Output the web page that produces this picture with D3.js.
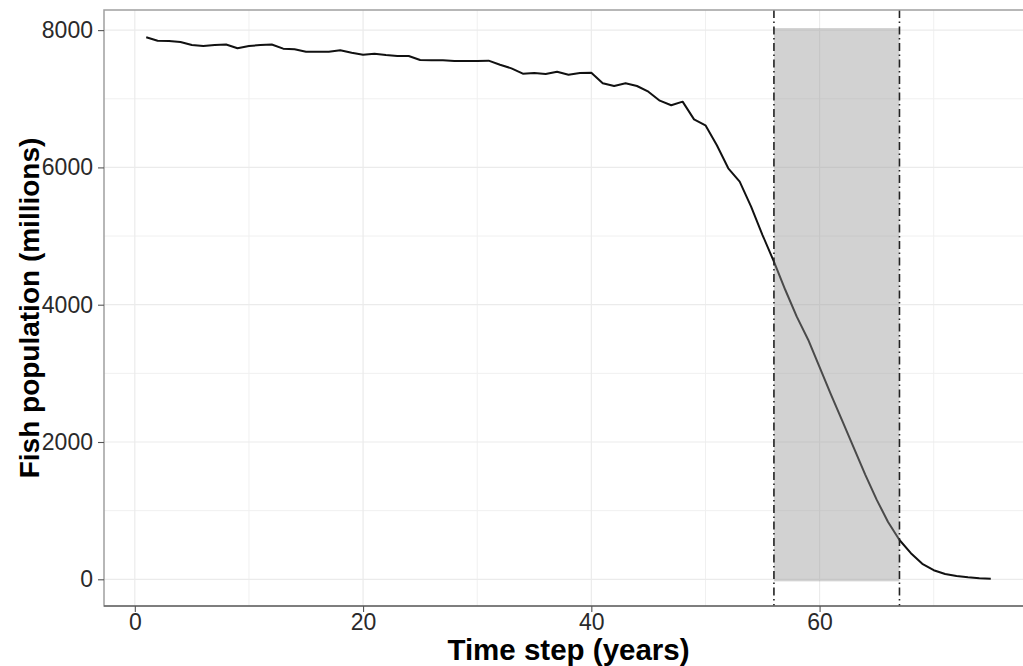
<!DOCTYPE html>
<html>
<head>
<meta charset="utf-8">
<script src="https://cdn.jsdelivr.net/npm/d3@7"></script>
<style>
  html, body { margin: 0; padding: 0; background: #fff; }
  svg { display: block; font-family: "Liberation Sans", Arial, sans-serif; }
</style>
</head>
<body>
<svg id="chart" width="1023" height="666"></svg>
<script>
// ---- data ----
const years = [1,2,3,4,5,6,7,8,9,10,11,12,13,14,15,16,17,18,19,20,21,22,23,24,25,
  26,27,28,29,30,31,32,33,34,35,36,37,38,39,40,41,42,43,44,45,46,47,48,49,50,
  51,52,53,54,55,56,57,58,59,60,61,62,63,64,65,66,67,68,69,70,71,72,73,74,75];
const population = [7895,7846,7841,7827,7783,7768,7783,7790,7735,7768,7783,7790,7730,7720,7686,
  7686,7686,7706,7671,7642,7657,7637,7623,7623,7565,7560,7560,7550,7550,7550,
  7555,7496,7443,7365,7375,7360,7394,7350,7375,7380,7225,7186,7225,7186,7103,
  6972,6905,6958,6700,6613,6322,5987,5792,5428,5015,4627,4214,3826,3490,3090,
  2690,2305,1915,1525,1160,835,572,380,225,132,77,48,29,15,9];
const windowStart = 56;
const windowEnd = 67;
const windowLow = -30;
const windowHigh = 8030;
const xTicks = [0, 20, 40, 60];
const xMinorTicks = [10, 30, 50, 70];
const yTicks = [0, 2000, 4000, 6000, 8000];
const yMinorTicks = [1000, 3000, 5000, 7000];
const xTitle = "Time step (years)";
const yTitle = "Fish population (millions)";

// ---- layout ----
const svg = d3.select("#chart");
const pL = 104, pR = 1033, pT = 10, pB = 606;
const x = d3.scaleLinear().domain([-2.7, 78.7]).range([pL, pR]);
const y = d3.scaleLinear().domain([-389, 8293]).range([pB, pT]);

svg.append("defs").append("clipPath").attr("id", "panel")
  .append("rect").attr("x", pL).attr("y", pT)
  .attr("width", pR - pL).attr("height", pB - pT);

const panel = svg.append("g").attr("clip-path", "url(#panel)");

// grid
panel.selectAll("line.vminor").data(xMinorTicks).join("line")
  .attr("x1", d => x(d)).attr("x2", d => x(d)).attr("y1", pT).attr("y2", pB)
  .attr("stroke", "#f0f0f0").attr("stroke-width", 1);
panel.selectAll("line.hminor").data(yMinorTicks).join("line")
  .attr("y1", d => y(d)).attr("y2", d => y(d)).attr("x1", pL).attr("x2", pR)
  .attr("stroke", "#f0f0f0").attr("stroke-width", 1);
panel.selectAll("line.vmajor").data(xTicks).join("line")
  .attr("x1", d => x(d)).attr("x2", d => x(d)).attr("y1", pT).attr("y2", pB)
  .attr("stroke", "#ebebeb").attr("stroke-width", 1.2);
panel.selectAll("line.hmajor").data(yTicks).join("line")
  .attr("y1", d => y(d)).attr("y2", d => y(d)).attr("x1", pL).attr("x2", pR)
  .attr("stroke", "#ebebeb").attr("stroke-width", 1.2);

// population line
const pts = years.map((t, i) => [t, population[i]]);
panel.append("path").datum(pts)
  .attr("fill", "none").attr("stroke", "#111").attr("stroke-width", 2)
  .attr("stroke-linejoin", "round")
  .attr("d", d3.line().x(d => x(d[0])).y(d => y(d[1])));

// shaded window
panel.append("rect")
  .attr("x", x(windowStart)).attr("width", x(windowEnd) - x(windowStart))
  .attr("y", y(windowHigh)).attr("height", y(windowLow) - y(windowHigh))
  .attr("fill", "#979797").attr("fill-opacity", 0.43);

// dot-dash vertical lines
panel.selectAll("line.vline").data([windowStart, windowEnd]).join("line")
  .attr("x1", d => x(d)).attr("x2", d => x(d)).attr("y1", pT).attr("y2", pB)
  .attr("stroke", "#222").attr("stroke-width", 1.6)
  .attr("stroke-dasharray", "8,3.5,1.5,3.5");

// panel border
svg.append("rect").attr("x", pL).attr("y", pT)
  .attr("width", pR - pL).attr("height", pB - pT)
  .attr("fill", "none").attr("stroke", "#a0a0a0").attr("stroke-width", 1.5);
svg.append("line").attr("x1", pL).attr("x2", pR).attr("y1", pB).attr("y2", pB)
  .attr("stroke", "#444").attr("stroke-width", 1.2);

// axes
const xAxis = svg.append("g").attr("transform", `translate(0,${pB})`)
  .call(d3.axisBottom(x).tickValues(xTicks).tickSize(6).tickPadding(2).tickFormat(d3.format("d")));
const yAxis = svg.append("g").attr("transform", `translate(${pL},0)`)
  .call(d3.axisLeft(y).tickValues(yTicks).tickSize(6).tickPadding(5).tickFormat(d3.format("d")));
[xAxis, yAxis].forEach(a => {
  a.select(".domain").remove();
  a.selectAll(".tick line").attr("stroke", "#555").attr("stroke-width", 1.1);
  a.selectAll(".tick text").attr("fill", "#2a2a2a")
    .style("font-size", "23px").style("font-family", "'Liberation Sans', Arial, sans-serif");
});

// titles
svg.append("text").attr("x", (pL + pR) / 2).attr("y", 660)
  .attr("text-anchor", "middle").attr("font-weight", "bold").attr("fill", "#000")
  .style("font-size", "29.5px").text(xTitle);
svg.append("text").attr("transform", `translate(39,308) rotate(-90)`)
  .attr("text-anchor", "middle").attr("font-weight", "bold").attr("fill", "#000")
  .style("font-size", "28px").text(yTitle);
</script>
</body>
</html>
